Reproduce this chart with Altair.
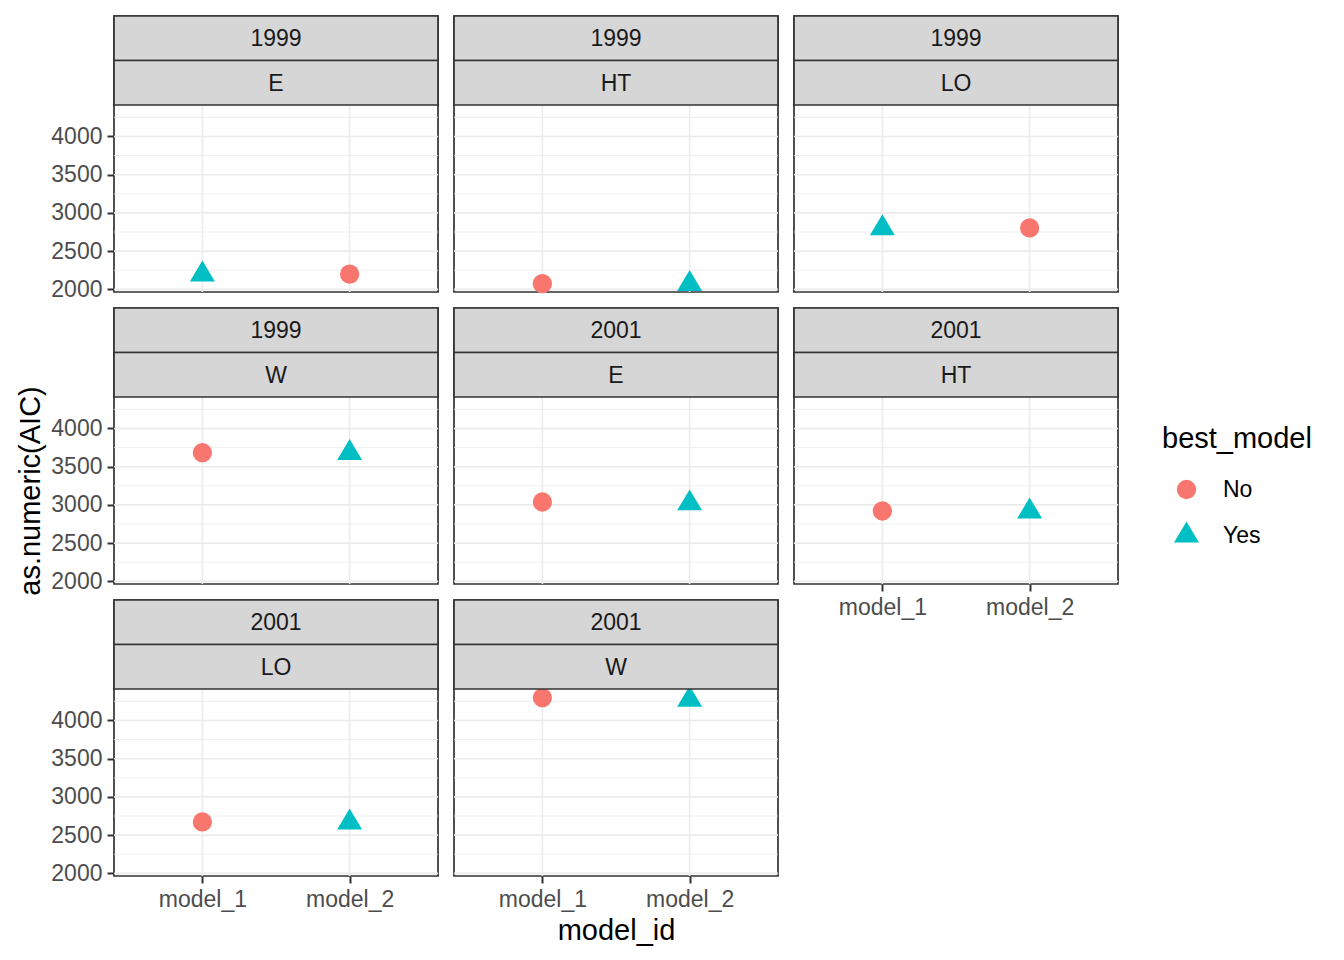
import altair as alt
import pandas as pd

# ---- data ----
years = ["1999", "1999", "1999", "1999", "2001", "2001", "2001", "2001"]
regions = ["E", "HT", "LO", "W", "E", "HT", "LO", "W"]
model_ids = ["model_1", "model_2"]
aic_model_1 = [2195, 2074, 2799, 3683, 3038, 2920, 2672, 4298]
aic_model_2 = [2198, 2070, 2803, 3678, 3020, 2914, 2665, 4272]
best_model_1 = ["Yes", "No", "Yes", "No", "No", "No", "No", "No"]
best_model_2 = ["No", "Yes", "No", "Yes", "Yes", "Yes", "Yes", "Yes"]
best_levels = ["No", "Yes"]
y_ticks = [2000, 2500, 3000, 3500, 4000]
y_minor = [2250, 2750, 3250, 3750, 4250]
y_domain = [1965, 4412]

rows = []
for i in range(len(years)):
    rows.append(dict(year=years[i], region=regions[i], model_id=model_ids[0],
                     AIC=aic_model_1[i], best_model=best_model_1[i]))
    rows.append(dict(year=years[i], region=regions[i], model_id=model_ids[1],
                     AIC=aic_model_2[i], best_model=best_model_2[i]))
df = pd.DataFrame(rows)

# ---- styling ----
FONT = "Liberation Sans"
W, H = 324, 276
STRIP = 44.5
TRI = "M0,-1.451L1.295,0.725L-1.295,0.725Z"
SMALL = 23
BIG = 29
GRID = "#EBEBEB"

legend = alt.Legend(
    title="best_model", orient="none", legendX=1048, legendY=409,
    symbolSize=372, symbolOffset=13, labelOffset=25, rowPadding=19,
    titlePadding=24, labelFontSize=SMALL, titleFontSize=BIG,
    titleFontWeight="normal", titleColor="black", labelColor="black",
    labelFont=FONT, titleFont=FONT, symbolStrokeWidth=0,
)
color_scale = alt.Scale(domain=best_levels, range=["#F8766D", "#00BFC4"])
shape_scale = alt.Scale(domain=best_levels, range=["circle", TRI])


def strip(label, y0):
    base = alt.Chart(pd.DataFrame({"label": [label]}))
    r = base.mark_rect(fill="#D6D6D6", stroke="#333333", strokeWidth=1.7).encode(
        x=alt.value(0), x2=alt.value(W), y=alt.value(y0), y2=alt.value(y0 + STRIP))
    t = base.mark_text(font=FONT, fontSize=SMALL, color="#1A1A1A").encode(
        text="label:N", x=alt.value(W / 2), y=alt.value(y0 + STRIP / 2 + 1))
    return [r, t]


def cell(i):
    col, row = i % 3, i // 3
    show_y = col == 0
    show_x = row == 2 or i == 5
    sub = df[(df.year == years[i]) & (df.region == regions[i])]
    yscale = alt.Scale(domain=y_domain, range=[H, 2 * STRIP], nice=False, zero=False)
    xscale = alt.Scale(type="point", padding=0.6, domain=model_ids)
    yaxis = alt.Axis(values=y_ticks, labels=show_y, ticks=show_y, grid=False,
                     format="d", title="as.numeric(AIC)" if i == 3 else None)
    xaxis = alt.Axis(labels=show_x, ticks=show_x, grid=False, labelAngle=0,
                     title="model_id" if i == 7 else None)
    minor = alt.Chart(pd.DataFrame({"v": y_minor})).mark_rule(
        color=GRID, strokeWidth=0.8).encode(
        y=alt.Y("v:Q", scale=yscale, axis=yaxis))
    major = alt.Chart(pd.DataFrame({"v": y_ticks})).mark_rule(
        color=GRID, strokeWidth=1.6).encode(
        y=alt.Y("v:Q", scale=yscale, axis=yaxis))
    vgrid = alt.Chart(pd.DataFrame({"m": model_ids})).mark_rule(
        color=GRID, strokeWidth=1.6).encode(
        x=alt.X("m:N", scale=xscale, axis=xaxis))
    pts = alt.Chart(sub).mark_point(filled=True, opacity=1, size=372, strokeWidth=0).encode(
        x=alt.X("model_id:N", scale=xscale, axis=xaxis),
        y=alt.Y("AIC:Q", scale=yscale, axis=yaxis),
        color=alt.Color("best_model:N", scale=color_scale, legend=legend),
        shape=alt.Shape("best_model:N", scale=shape_scale, legend=legend),
    )
    layers = [minor, major, vgrid, pts] + strip(years[i], 0) + strip(regions[i], STRIP)
    return alt.layer(*layers).properties(width=W, height=H)


cells = [cell(i) for i in range(len(years))]

chart = alt.concat(*cells, columns=3, spacing=16, bounds="flush").properties(
    padding={"left": 7, "top": 6, "right": 5, "bottom": 5}
).configure(font=FONT).configure_view(
    stroke="#333333", strokeWidth=1.7
).configure_axis(
    labelFont=FONT, labelFontSize=SMALL, labelColor="#4D4D4D",
    tickColor="#333333", tickSize=7, tickWidth=2, labelPadding=5,
    domain=False, grid=False,
    titleFont=FONT, titleFontSize=BIG, titleFontWeight="normal",
    titleColor="black", titlePadding=5,
)

chart.save("out.html", embed_options={"renderer": "svg", "actions": False})
